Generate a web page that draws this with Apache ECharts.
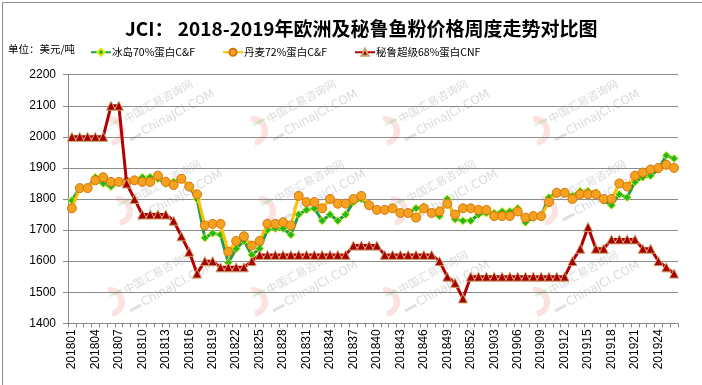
<!DOCTYPE html>
<html>
<head>
<meta charset="utf-8">
<script src="https://cdn.jsdelivr.net/npm/echarts@6/dist/echarts.min.js"></script>
<style>
html,body{margin:0;padding:0;background:#fff;}
#c{width:702px;height:385px;}
</style>
</head>
<body>
<div id="c"></div>
<script>
// ---- data ----
var weeks = [];
for (var w = 1; w <= 52; w++) weeks.push('2018' + (w < 10 ? '0' + w : '' + w));
for (var w2 = 1; w2 <= 26; w2++) weeks.push('2019' + (w2 < 10 ? '0' + w2 : '' + w2));

var seriesNames = ['冰岛70%蛋白C&F', '丹麦72%蛋白C&F', '秘鲁超级68%蛋白CNF'];

var iceland70 = [1795,1835,1835,1870,1850,1840,1855,1855,1860,1870,
                 1870,1865,1850,1855,1865,1840,1800,1675,1690,1685,
                 1595,1640,1665,1620,1640,1700,1705,1705,1685,1750,
                 1765,1770,1730,1750,1730,1750,1790,1800,1780,1765,
                 1765,1770,1755,1755,1770,1775,1755,1745,1800,1735,
                 1730,1730,1750,1755,1755,1760,1760,1770,1725,1740,
                 1745,1805,1820,1820,1810,1825,1825,1820,1795,1780,
                 1815,1805,1855,1870,1875,1895,1940,1930];

var denmark72 = [1770,1835,1835,1860,1870,1855,1855,1855,1860,1855,
                 1855,1875,1855,1845,1865,1840,1815,1715,1720,1720,
                 1630,1665,1680,1650,1665,1720,1720,1725,1715,1810,
                 1790,1790,1770,1800,1785,1785,1800,1810,1780,1765,
                 1765,1770,1755,1755,1740,1770,1755,1760,1785,1750,
                 1770,1770,1765,1765,1745,1745,1745,1760,1740,1745,
                 1745,1790,1820,1820,1800,1815,1815,1815,1800,1800,
                 1850,1840,1875,1885,1895,1900,1910,1900];

var peruSuper68 = [2000,2000,2000,2000,2000,2100,2100,1850,1800,1750,
                   1750,1750,1750,1730,1680,1630,1560,1600,1600,1580,
                   1580,1580,1580,1600,1620,1620,1620,1620,1620,1620,
                   1620,1620,1620,1620,1620,1620,1650,1650,1650,1650,
                   1620,1620,1620,1620,1620,1620,1620,1600,1550,1530,
                   1480,1550,1550,1550,1550,1550,1550,1550,1550,1550,
                   1550,1550,1550,1550,1600,1640,1710,1640,1640,1670,
                   1670,1670,1670,1640,1640,1600,1580,1560];

var yMin = 1400, yMax = 2200, yStep = 100;

// ---- watermark elements ----
var wm = [];
var cols = [158, 301, 433, 583];
var rows = [101, 181, 272];
rows.forEach(function (cy, ri) {
  cols.forEach(function (cx) {
    var ox = (ri === 1) ? 8 : 0;
    wm.push({
      type: 'text', x: cx + ox, y: cy, rotation: 0.5, silent: true, z: -1,
      style: { text: '中国汇易咨询网', font: '11px "Noto Sans CJK SC"', fill: 'rgba(150,150,150,0.35)', textAlign: 'center', textVerticalAlign: 'middle' }
    });
    wm.push({
      type: 'text', x: cx + ox + 20, y: cy + 12, rotation: 0.5, silent: true, z: -1,
      style: { text: 'ChinaJCI.COM', font: '12px "DejaVu Sans"', fill: 'rgba(150,150,150,0.35)', textAlign: 'center', textVerticalAlign: 'middle' }
    });
    wm.push({
      type: 'arc', x: cx + ox - 48, y: cy + 30, silent: true, z: -1,
      shape: { cx: 0, cy: 0, r: 12, startAngle: -Math.PI * 0.55, endAngle: Math.PI * 0.45 },
      style: { stroke: 'rgba(240,120,120,0.22)', lineWidth: 6, fill: null }
    });
    wm.push({
      type: 'line', silent: true, z: -1,
      shape: { x1: cx + ox - 28, y1: cy + 39, x2: cx + ox - 17, y2: cy + 33 },
      style: { stroke: 'rgba(150,150,150,0.3)', lineWidth: 3 }
    });
    wm.push({
      type: 'line', silent: true, z: -1,
      shape: { x1: cx + ox - 48, y1: cy + 24, x2: cx + ox - 36, y2: cy + 18 },
      style: { stroke: 'rgba(80,200,80,0.2)', lineWidth: 3 }
    });
  });
});

var legendLefts = [90, 222, 354];
var legends = seriesNames.map(function (n, i) {
  return {
    data: [n], left: legendLefts[i], top: 47, padding: 0,
    itemWidth: 20, itemHeight: 9,
    textStyle: { fontFamily: '"Noto Sans CJK SC"', fontSize: 10.5, color: '#000', padding: [0, 0, 0, -4] }
  };
});

var chart = echarts.init(document.getElementById('c'), null, { renderer: 'canvas' });
chart.setOption({
  animation: false,
  backgroundColor: '#fff',
  title: {
    text: 'JCI： 2018-2019年欧洲及秘鲁鱼粉价格周度走势对比图',
    left: 120, top: 14,
    textStyle: { fontFamily: '"Noto Sans CJK SC"', fontSize: 19, fontWeight: 'bold', color: '#000' }
  },
  graphic: [
    { type: 'rect', left: 0, top: 0, silent: true, z: 100,
      shape: { x: 0.5, y: 0.5, width: 701, height: 384 },
      style: { fill: null, stroke: '#8a8a8a', lineWidth: 1 } },
    { type: 'text', left: 8, top: 44, silent: true,
      style: { text: '单位：美元/吨', font: '10.5px "Noto Sans CJK SC"', fill: '#000' } }
  ].concat(wm),
  legend: legends,
  grid: { left: 68, right: 24, top: 74.7, bottom: 61.7, containLabel: false },
  xAxis: {
    type: 'category', data: weeks, boundaryGap: true,
    axisLine: { lineStyle: { color: '#888', width: 1 } },
    axisTick: { show: true, interval: 0, length: 4, inside: false, lineStyle: { color: '#888' } },
    axisLabel: { interval: 2, rotate: 90, margin: 6, fontFamily: '"Liberation Sans"', fontSize: 12, color: '#000' },
    splitLine: { show: false }
  },
  yAxis: {
    type: 'value', min: yMin, max: yMax, interval: yStep,
    axisLine: { show: true, lineStyle: { color: '#888', width: 1 } },
    axisTick: { show: true, length: 5, lineStyle: { color: '#888' } },
    axisLabel: { margin: 12, fontFamily: '"Liberation Sans"', fontSize: 12, color: '#000',
                 formatter: function (v) { return String(v); } },
    splitLine: { show: true, lineStyle: { color: '#8c8c8c', width: 1 } }
  },
  series: [
    {
      name: seriesNames[0], type: 'line', data: iceland70,
      symbol: 'diamond', symbolSize: 8, showAllSymbol: true,
      lineStyle: { color: '#1E9E48', width: 3 },
      itemStyle: { color: '#22B822', borderColor: '#D8EE10', borderWidth: 1 },
      z: 2
    },
    {
      name: seriesNames[1], type: 'line', data: denmark72,
      symbol: 'circle', symbolSize: 9, showAllSymbol: true,
      lineStyle: { color: '#FFC000', width: 3 },
      itemStyle: { color: '#F7A21E', borderColor: '#D47410', borderWidth: 1 },
      z: 3
    },
    {
      name: seriesNames[2], type: 'line', data: peruSuper68,
      symbol: 'triangle', symbolSize: 9, showAllSymbol: true,
      lineStyle: { color: '#B40000', width: 3 },
      itemStyle: { color: '#A80000', borderColor: '#C9A36A', borderWidth: 1 },
      z: 4
    }
  ]
});
</script>
</body>
</html>
